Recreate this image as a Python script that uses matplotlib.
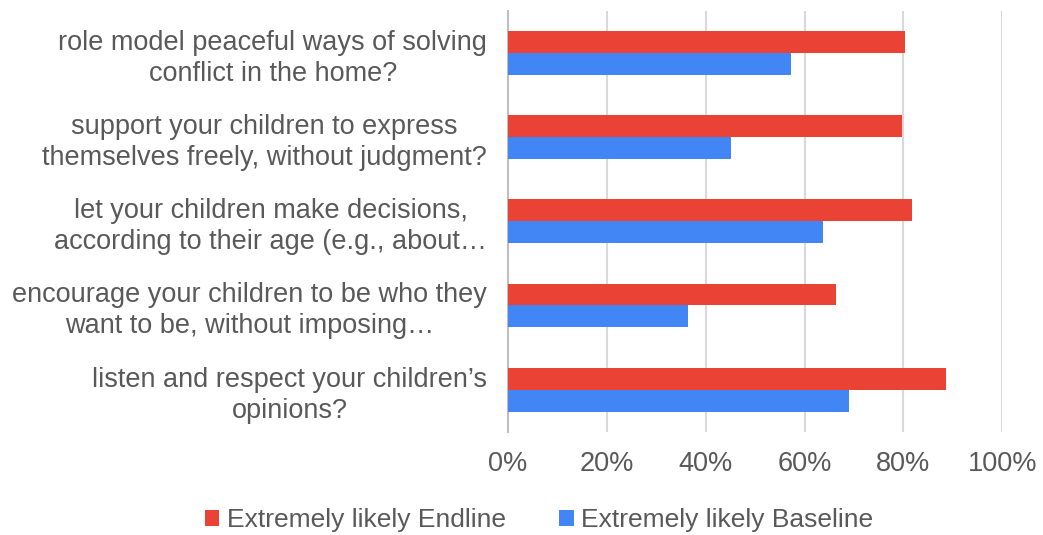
import matplotlib.pyplot as plt
import numpy as np

plt.rcParams['font.family'] = ['Liberation Sans', 'DejaVu Sans']

questions = [
    'role model peaceful ways of solving\nconflict in the home?',
    'support your children to express\nthemselves freely, without judgment?',
    'let your children make decisions,\naccording to their age (e.g., about\u2026',
    'encourage your children to be who they\nwant to be, without imposing\u2026',
    'listen and respect your children\u2019s\nopinions?',
]
endline = [80.4, 79.8, 81.8, 66.4, 88.7]
baseline = [57.3, 45.1, 63.8, 36.4, 69.0]
ticks = [0, 20, 40, 60, 80, 100]

red = '#EA4335'
blue = '#4285F4'
textc = '#595959'
fs = 19.5

fig = plt.figure(figsize=(10.43, 5.35), dpi=100)
ax = fig.add_axes([0.487, 0.193, 0.474, 0.787])

y = np.arange(len(questions))
h = 0.26
ax.barh(y - h / 2, endline, height=h, color=red, label='Extremely likely Endline', zorder=3)
ax.barh(y + h / 2, baseline, height=h, color=blue, label='Extremely likely Baseline', zorder=3)

ax.set_xlim(0, 100)
ax.set_ylim(len(questions) - 0.5, -0.5)
ax.set_xticks(ticks)
ax.set_xticklabels([f'{t}%' for t in ticks], fontsize=fs, color=textc)
ax.set_yticks(y)
ax.set_yticklabels(questions, fontsize=fs, color=textc, multialignment='center', linespacing=1.25)
ax.tick_params(axis='y', length=0, pad=15)
ax.tick_params(axis='x', length=0, pad=14)
ax.grid(axis='x', color='#D9D9D9', linewidth=1.5, zorder=0)
for s in ['top', 'right', 'bottom']:
    ax.spines[s].set_visible(False)
ax.spines['left'].set_color('#BFBFBF')
ax.spines['left'].set_linewidth(1.5)

fig.legend(loc='center', bbox_to_anchor=(0.517, 0.028), ncol=2, frameon=False,
           fontsize=19, labelcolor=textc, handlelength=0.55, handleheight=0.55,
           handletextpad=0.3, columnspacing=2.0)

fig.savefig('out.png', dpi=100)
